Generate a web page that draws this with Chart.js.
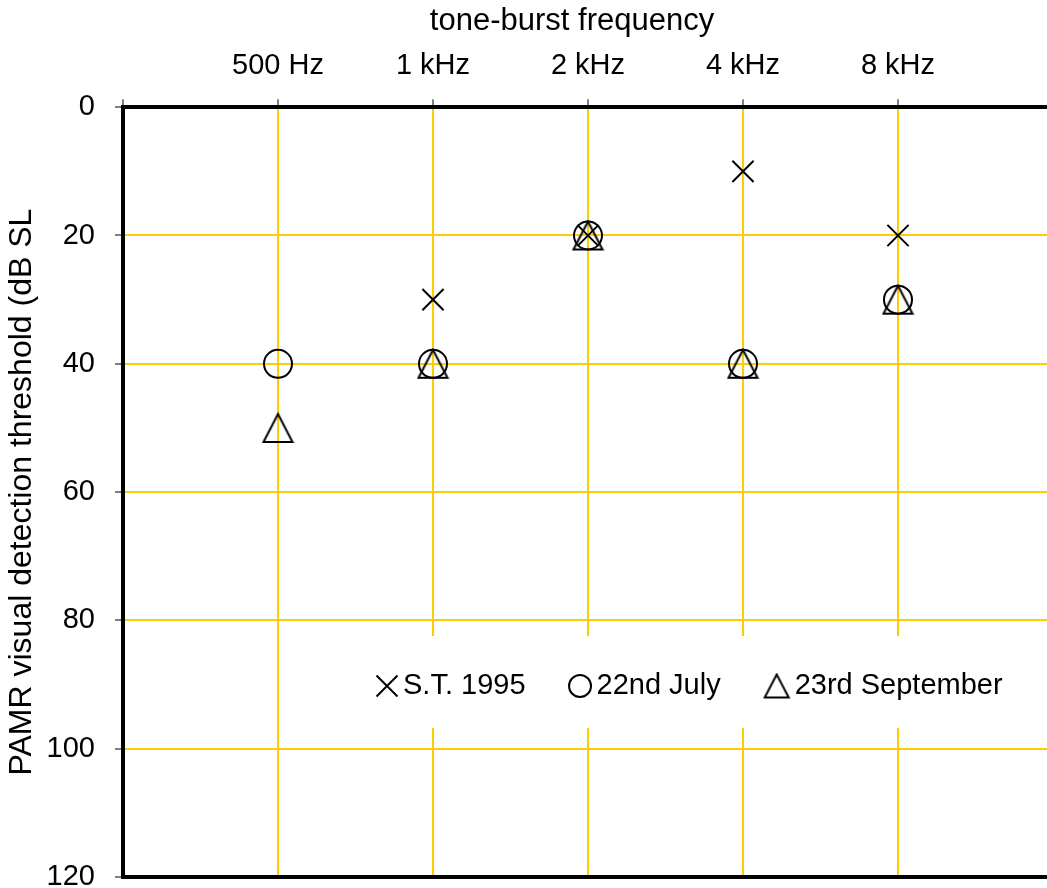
<!DOCTYPE html>
<html>
<head>
<meta charset="utf-8">
<script src="https://cdn.jsdelivr.net/npm/chart.js@4.4.1/dist/chart.umd.min.js"></script>
<style>
  html, body { margin: 0; padding: 0; overflow: hidden; background: #fff; }
</style>
</head>
<body>
<canvas id="myChart" width="1144" height="888"></canvas>
<script>
const frequencies = ["500 Hz", "1 kHz", "2 kHz", "4 kHz", "8 kHz"];
const freqPositions = [1, 2, 3, 4, 5];
const st1995 = [null, 30, 20, 10, 20];
const july22 = [40, 40, 20, 40, 30];
const sept23 = [50, 40, 20, 40, 30];
const seriesLabels = ["S.T. 1995", "22nd July", "23rd September"];

const FONT = "'Liberation Sans', Arial, sans-serif";
const GRID = "#FFCC00";

const toPoints = (values) =>
  freqPositions
    .map((x, i) => (values[i] == null ? null : { x: x, y: values[i] }))
    .filter((p) => p !== null);

// open triangle marker, drawn once on a small canvas
const makeTriangle = (w, h, lw) => {
  const c = document.createElement("canvas");
  c.width = w + lw * 2;
  c.height = h + lw * 2;
  const ctx = c.getContext("2d");
  ctx.strokeStyle = "#000";
  ctx.lineWidth = lw;
  ctx.beginPath();
  ctx.moveTo(c.width / 2, lw);
  ctx.lineTo(c.width - lw, c.height - lw);
  ctx.lineTo(lw, c.height - lw);
  ctx.closePath();
  ctx.stroke();
  return c;
};

const triangle = makeTriangle(29, 28, 2);
const smallTriangle = makeTriangle(24, 23, 2);

// fixed axis sizes; drop the label overflow padding so the plot keeps its size
const fixSize = (size) => (s) => {
  if (s.isHorizontal()) s.height = size;
  else s.width = size;
  s.paddingTop = s.paddingBottom = s.paddingLeft = s.paddingRight = 0;
};

// legend sits inside the plot on a white patch
const legendBox = {
  id: "legendBox",
  beforeDatasetsDraw(chart) {
    const ctx = chart.ctx;
    const top = 636, bottom = 728;
    const cy = (top + bottom) / 2 + 4;
    ctx.save();
    ctx.fillStyle = "#fff";
    ctx.fillRect(360, top, 680, bottom - top);

    ctx.font = "29px " + FONT;
    ctx.fillStyle = "#000";
    ctx.strokeStyle = "#000";
    ctx.lineWidth = 2;
    ctx.textBaseline = "middle";
    ctx.textAlign = "left";

    let x = 376;
    chart.data.datasets.forEach((ds, i) => {
      const w = i === 0 ? 22 : i === 1 ? 23 : 26;
      const cx = x + w / 2;
      if (i === 0) {
        ctx.beginPath();
        ctx.moveTo(cx - 10.5, cy - 10.5);
        ctx.lineTo(cx + 10.5, cy + 10.5);
        ctx.moveTo(cx + 10.5, cy - 10.5);
        ctx.lineTo(cx - 10.5, cy + 10.5);
        ctx.stroke();
      } else if (i === 1) {
        ctx.beginPath();
        ctx.arc(cx, cy, 11, 0, Math.PI * 2);
        ctx.stroke();
      } else {
        ctx.drawImage(smallTriangle, cx - smallTriangle.width / 2, cy - smallTriangle.height / 2);
      }
      const tx = x + w + 5;
      ctx.fillText(ds.label, tx, cy);
      x = tx + ctx.measureText(ds.label).width + 43;
    });
    ctx.restore();
  },
};

const config = {
  type: "scatter",
  data: {
    datasets: [
      {
        label: seriesLabels[0],
        data: toPoints(st1995),
        pointStyle: "crossRot",
        radius: 15,
        borderWidth: 2,
        borderColor: "#000",
        backgroundColor: "rgba(0,0,0,0)",
      },
      {
        label: seriesLabels[1],
        data: toPoints(july22),
        pointStyle: "circle",
        radius: 14,
        borderWidth: 2,
        borderColor: "#000",
        backgroundColor: "rgba(0,0,0,0)",
      },
      {
        label: seriesLabels[2],
        data: toPoints(sept23),
        pointStyle: triangle,
        radius: 15,
        borderWidth: 2,
        borderColor: "#000",
        backgroundColor: "rgba(0,0,0,0)",
      },
    ],
  },
  options: {
    responsive: false,
    animation: false,
    layout: {
      autoPadding: false,
      padding: 0,
    },
    plugins: {
      legend: { display: false },
      tooltip: { enabled: false },
      title: {
        display: true,
        text: "tone-burst frequency",
        color: "#000",
        font: { family: FONT, size: 31, weight: "normal" },
        padding: { top: 3, bottom: 0 },
      },
    },
    scales: {
      x: {
        type: "linear",
        position: "top",
        min: 0,
        max: 6,
        afterFit: fixSize(67),
        grid: {
          color: GRID,
          lineWidth: 2,
          tickLength: 8,
          tickColor: "#808080",
          tickWidth: 2,
        },
        border: { color: "#000", width: 4 },
        ticks: {
          stepSize: 1,
          padding: 16,
          color: "#000",
          font: { family: FONT, size: 29 },
          maxRotation: 0,
          callback: (v) => {
            const i = freqPositions.indexOf(v);
            return i >= 0 ? frequencies[i] : "";
          },
        },
      },
      x2: {
        type: "linear",
        position: "bottom",
        afterFit: fixSize(11),
        grid: { display: false },
        ticks: { display: false },
        border: { color: "#000", width: 4 },
      },
      y: {
        reverse: true,
        min: 0,
        max: 120,
        afterFit: fixSize(123),
        grid: {
          color: GRID,
          lineWidth: 2,
          tickLength: 8,
          tickColor: "#808080",
          tickWidth: 2,
        },
        border: { color: "#000", width: 4 },
        ticks: {
          stepSize: 20,
          padding: 20,
          color: "#000",
          font: { family: FONT, size: 29 },
        },
        title: {
          display: true,
          text: "PAMR visual detection threshold (dB SL",
          color: "#000",
          font: { family: FONT, size: 32 },
          padding: { top: 3, bottom: 0 },
        },
      },
      y2: {
        type: "linear",
        position: "right",
        afterFit: fixSize(91),
        grid: { display: false },
        ticks: { display: false },
        border: { display: false },
      },
    },
  },
  plugins: [legendBox],
};

const myChart = new Chart(document.getElementById("myChart").getContext("2d"), config);
</script>
</body>
</html>
